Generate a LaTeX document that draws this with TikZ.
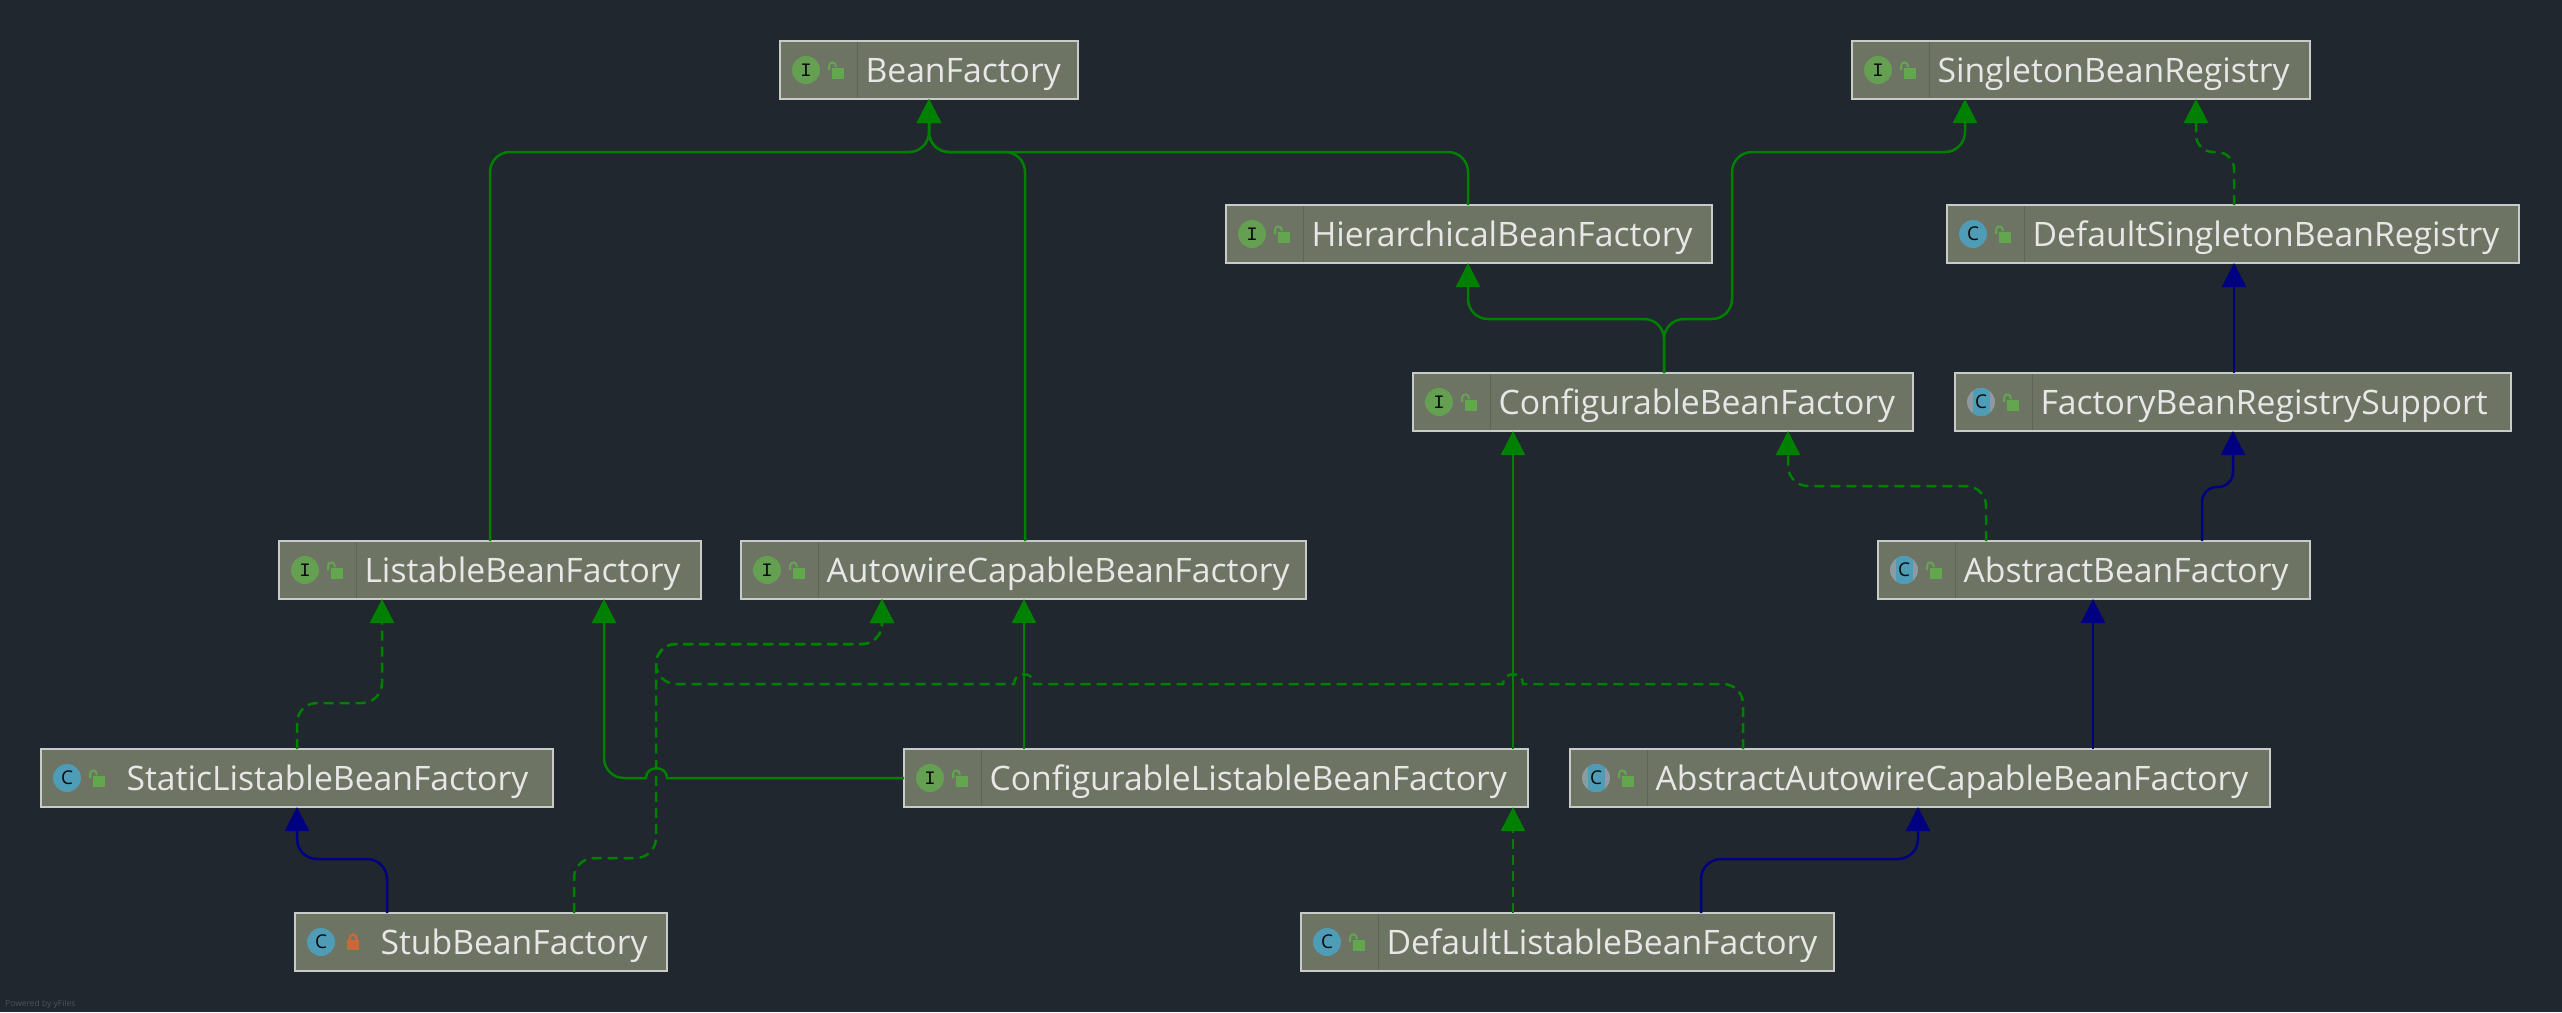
\documentclass[tikz,border=0pt]{standalone}
\usepackage{fontspec}
\setmainfont{Open Sans}
\newfontfamily\monof{Liberation Mono}
\usetikzlibrary{arrows.meta,calc}
\definecolor{bgc}{HTML}{21272E}
\definecolor{boxf}{HTML}{6E7464}
\definecolor{boxl}{HTML}{C9CBC8}
\definecolor{divc}{HTML}{5E6457}
\definecolor{txtc}{HTML}{E6E7E6}
\definecolor{igreen}{HTML}{659F52}
\definecolor{cblue}{HTML}{4F9CB6}
\definecolor{cgray}{HTML}{8D9AA2}
\definecolor{lockg}{HTML}{62A64E}
\definecolor{locko}{HTML}{C76A38}
\definecolor{egreen}{HTML}{008000}
\definecolor{eblue}{HTML}{000080}
\tikzset{
  box/.style={draw=boxl,fill=boxf,line width=2pt,inner sep=0pt,outer sep=0pt,
    align=left,text=txtc,font=\fontsize{33.7}{36}\selectfont,text height=30pt,text depth=6pt},
  iconc/.style={circle,minimum size=28pt,inner sep=0pt,text=black!75!bgc},
  conn/.style={line width=2.5pt,rounded corners=20pt,-{Triangle[width=24pt,length=24pt]}},
  impl/.style={conn,egreen},
  impld/.style={conn,egreen,dash pattern=on 10pt off 6pt},
  ext/.style={conn,eblue},
  shack/.style={line width=2pt,line cap=butt}
}
\newcommand\bx[6]{%
  \pgfmathsetmacro\bxw{#4-#2}\pgfmathsetmacro\bxh{#5-#3}%
  \pgfmathsetmacro\bxx{(#2+#4)/2}\pgfmathsetmacro\bxy{(#3+#5)/2}%
  \node[box,minimum height=\bxh pt,text width=\bxw pt] (#1) at (\bxx,\bxy) {\mbox{\hspace*{85.5pt}#6}};}
\newcommand\divd[1]{\draw[divc,line width=1pt] ($(#1.north west)+(77,1)$) -- ($(#1.south west)+(77,-1)$);}
\newcommand\lockopen[1]{%
  \fill[lockg] ($(#1.west)+(52,-2)$) rectangle ($(#1.west)+(64,9)$);
  \draw[lockg,shack] ($(#1.west)+(49,0)$) -- ($(#1.west)+(49,-4)$) .. controls ($(#1.west)+(49,-9)$) and ($(#1.west)+(56,-9)$) .. ($(#1.west)+(56,-3)$);}
\newcommand\iconI[1]{\node[iconc,fill=igreen,font=\monof\fontsize{19}{19}\selectfont] (#1i) at ($(#1.west)+(26,0)$) {I};\lockopen{#1}\divd{#1}}
\newcommand\iconCn[1]{\node[iconc,fill=cblue,font=\fontsize{19}{19}\selectfont] (#1i) at ($(#1.west)+(26,0)$) {C};\lockopen{#1}}
\newcommand\iconC[1]{\iconCn{#1}\divd{#1}}
\newcommand\iconA[1]{%
  \begin{scope}
  \fill[cgray] ($(#1.west)+(26,0)$) circle[radius=14pt];
  \clip ($(#1.west)+(26,0)$) circle[radius=14pt];
  \fill[cblue] ($(#1.west)+(17.5,-15)$) rectangle ($(#1.west)+(34.5,15)$);
  \end{scope}
  \node[iconc,font=\fontsize{19}{19}\selectfont] (#1i) at ($(#1.west)+(26,0)$) {C};\lockopen{#1}\divd{#1}}
\begin{document}
\begin{tikzpicture}[x=1pt,y=-1pt]
\useasboundingbox (0,0) rectangle (2562,1012);
\fill[bgc] (0,0) rectangle (2562,1012);
\bx{bf}{780}{41}{1078}{99}{BeanFactory}
\bx{sr}{1852}{41}{2310}{99}{SingletonBeanRegistry}
\bx{hb}{1226}{205}{1712}{263}{HierarchicalBeanFactory}
\bx{ds}{1947}{205}{2519}{263}{DefaultSingletonBeanRegistry}
\bx{cb}{1413}{373}{1913}{431}{ConfigurableBeanFactory}
\bx{fr}{1955}{373}{2511}{431}{FactoryBeanRegistrySupport}
\bx{lb}{279}{541}{701}{599}{ListableBeanFactory}
\bx{ac}{741}{541}{1306}{599}{AutowireCapableBeanFactory}
\bx{ab}{1878}{541}{2310}{599}{AbstractBeanFactory}
\bx{sl}{41}{749}{553}{807}{StaticListableBeanFactory}
\bx{cl}{904}{749}{1528}{807}{ConfigurableListableBeanFactory}
\bx{aa}{1570}{749}{2270}{807}{AbstractAutowireCapableBeanFactory}
\bx{st}{295}{913}{667}{971}{StubBeanFactory}
\bx{dl}{1301}{913}{1834}{971}{DefaultListableBeanFactory}
\iconI{bf}\iconI{sr}\iconI{hb}\iconC{ds}\iconI{cb}\iconA{fr}\iconI{lb}\iconI{ac}\iconA{ab}
\iconCn{sl}\iconI{cl}\iconA{aa}\iconC{dl}
% private class icon
\node[iconc,fill=cblue,font=\fontsize{19}{19}\selectfont] (sti) at ($(st.west)+(26,0)$) {C};
\fill[locko] ($(st.west)+(52,-2)$) rectangle ($(st.west)+(64,8)$);
\draw[locko,shack,line width=2.5pt] ($(st.west)+(54.5,-2)$) -- ($(st.west)+(54.5,-3)$) .. controls ($(st.west)+(54.5,-9)$) and ($(st.west)+(61.5,-9)$) .. ($(st.west)+(61.5,-3)$) -- ($(st.west)+(61.5,-2)$);
% connectors
\draw[impl] (lb.north -| 490,0) -- (490,152) -- (929,152) -- (bf.south -| 929,0);
\draw[impl] (ac.north -| 1025,0) -- (1025,152) -- (929,152) -- (bf.south -| 929,0);
\draw[impl] (hb.north -| 1468,0) -- (1468,152) -- (929,152) -- (bf.south -| 929,0);
\draw[impl] (cb.north -| 1664,0) -- (1664,319) -- (1468,319) -- (hb.south -| 1468,0);
\draw[impl] (cb.north -| 1664,0) -- (1664,319) -- (1732,319) -- (1732,152) -- (1965,152) -- (sr.south -| 1965,0);
\draw[impld,rounded corners=17pt] (ds.north -| 2234,0) -- (2234,152) -- (2196,152) -- (sr.south -| 2196,0);
\draw[ext] (fr.north -| 2234,0) -- (ds.south -| 2234,0);
\draw[ext,rounded corners=15pt] (ab.north -| 2202,0) -- (2202,487) -- (2233,487) -- (fr.south -| 2233,0);
\draw[impld] (ab.north -| 1986,0) -- (1986,486) -- (1788,486) -- (cb.south -| 1788,0);
\draw[impl] (cl.north -| 1513,0) -- (cb.south -| 1513,0);
\draw[ext] (aa.north -| 2093,0) -- (ab.south -| 2093,0);
\draw[impl] (cl.north -| 1024,0) -- (ac.south -| 1024,0);
\draw[impl,sharp corners] (cl.west) -- (667,778) .. controls (667,765) and (646,765) .. (646,778) -- (635,778) [rounded corners=20pt] -- (604,778) -- (lb.south -| 604,0);
\draw[impld] (sl.north -| 297,0) -- (297,703) -- (382,703) -- (lb.south -| 382,0);
\draw[ext] (st.north -| 387,0) -- (387,859) -- (297,859) -- (sl.south -| 297,0);
\draw[impld] (st.north -| 574,0) -- (574,858) -- (656,858) -- (656,644) -- (882,644) -- (ac.south -| 882,0);
\draw[impld] (aa.north -| 1743,0) -- (1743,684) -- (1600,684) [sharp corners] -- (1523,684) .. controls (1523,671) and (1503,671) .. (1503,684) -- (1034,684) .. controls (1034,671) and (1014,671) .. (1014,684) -- (800,684) [rounded corners=20pt] -- (656,684) -- (656,644) -- (882,644) -- (ac.south -| 882,0);
\draw[impld] (dl.north -| 1513,0) -- (cl.south -| 1513,0);
\draw[ext] (dl.north -| 1701,0) -- (1701,859) -- (1918,859) -- (aa.south -| 1918,0);
\node[anchor=west,inner sep=0pt,text=white!20!bgc,font=\fontsize{8.5}{9}\selectfont] (pw) at (5,1004) {Powered by yFiles};
\end{tikzpicture}
\end{document}
